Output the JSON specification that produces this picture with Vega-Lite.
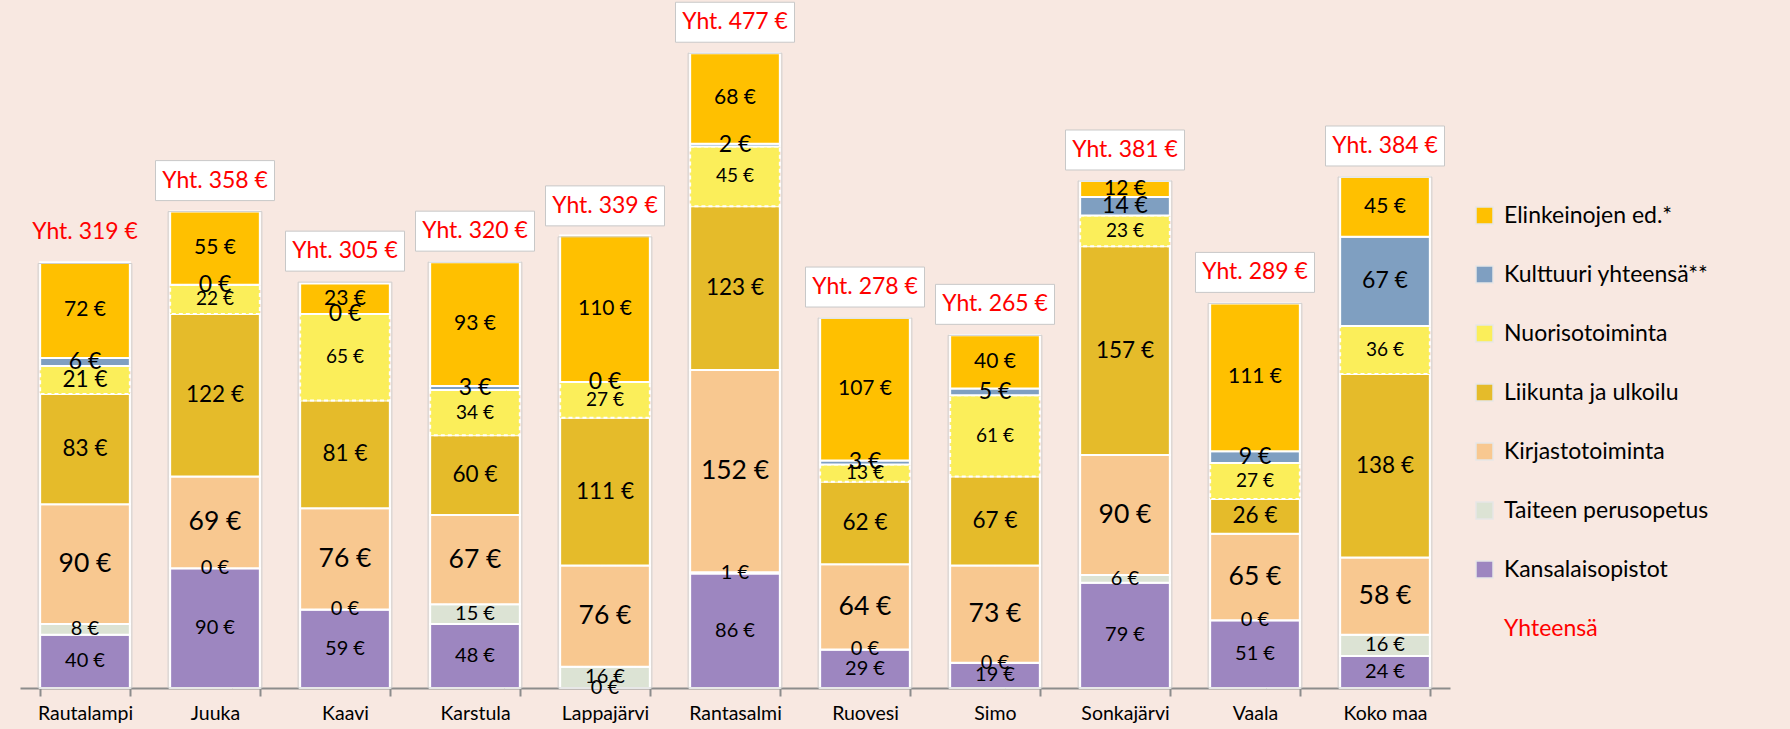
{
  "$schema": "https://vega.github.io/schema/vega-lite/v6.json",
  "background": "#F8E8E1",
  "autosize": {"type": "none"},
  "width": 1430,
  "height": 688,
  "padding": {"left": 20, "top": 0, "right": 340, "bottom": 41},
  "config": {"view": {"stroke": null}, "font": "Lato"},
  "datasets": {
    "osat": [
      {"Kunta": "Rautalampi", "Sarja": "Kansalaisopistot", "Arvo": 40},
      {"Kunta": "Rautalampi", "Sarja": "Taiteen perusopetus", "Arvo": 8},
      {"Kunta": "Rautalampi", "Sarja": "Kirjastotoiminta", "Arvo": 90},
      {"Kunta": "Rautalampi", "Sarja": "Liikunta ja ulkoilu", "Arvo": 83},
      {"Kunta": "Rautalampi", "Sarja": "Nuorisotoiminta", "Arvo": 21},
      {"Kunta": "Rautalampi", "Sarja": "Kulttuuri yhteensä**", "Arvo": 6},
      {"Kunta": "Rautalampi", "Sarja": "Elinkeinojen ed.*", "Arvo": 72},
      {"Kunta": "Juuka", "Sarja": "Kansalaisopistot", "Arvo": 90},
      {"Kunta": "Juuka", "Sarja": "Taiteen perusopetus", "Arvo": 0},
      {"Kunta": "Juuka", "Sarja": "Kirjastotoiminta", "Arvo": 69},
      {"Kunta": "Juuka", "Sarja": "Liikunta ja ulkoilu", "Arvo": 122},
      {"Kunta": "Juuka", "Sarja": "Nuorisotoiminta", "Arvo": 22},
      {"Kunta": "Juuka", "Sarja": "Kulttuuri yhteensä**", "Arvo": 0},
      {"Kunta": "Juuka", "Sarja": "Elinkeinojen ed.*", "Arvo": 55},
      {"Kunta": "Kaavi", "Sarja": "Kansalaisopistot", "Arvo": 59},
      {"Kunta": "Kaavi", "Sarja": "Taiteen perusopetus", "Arvo": 0},
      {"Kunta": "Kaavi", "Sarja": "Kirjastotoiminta", "Arvo": 76},
      {"Kunta": "Kaavi", "Sarja": "Liikunta ja ulkoilu", "Arvo": 81},
      {"Kunta": "Kaavi", "Sarja": "Nuorisotoiminta", "Arvo": 65},
      {"Kunta": "Kaavi", "Sarja": "Kulttuuri yhteensä**", "Arvo": 0},
      {"Kunta": "Kaavi", "Sarja": "Elinkeinojen ed.*", "Arvo": 23},
      {"Kunta": "Karstula", "Sarja": "Kansalaisopistot", "Arvo": 48},
      {"Kunta": "Karstula", "Sarja": "Taiteen perusopetus", "Arvo": 15},
      {"Kunta": "Karstula", "Sarja": "Kirjastotoiminta", "Arvo": 67},
      {"Kunta": "Karstula", "Sarja": "Liikunta ja ulkoilu", "Arvo": 60},
      {"Kunta": "Karstula", "Sarja": "Nuorisotoiminta", "Arvo": 34},
      {"Kunta": "Karstula", "Sarja": "Kulttuuri yhteensä**", "Arvo": 3},
      {"Kunta": "Karstula", "Sarja": "Elinkeinojen ed.*", "Arvo": 93},
      {"Kunta": "Lappajärvi", "Sarja": "Kansalaisopistot", "Arvo": 0},
      {"Kunta": "Lappajärvi", "Sarja": "Taiteen perusopetus", "Arvo": 16},
      {"Kunta": "Lappajärvi", "Sarja": "Kirjastotoiminta", "Arvo": 76},
      {"Kunta": "Lappajärvi", "Sarja": "Liikunta ja ulkoilu", "Arvo": 111},
      {"Kunta": "Lappajärvi", "Sarja": "Nuorisotoiminta", "Arvo": 27},
      {"Kunta": "Lappajärvi", "Sarja": "Kulttuuri yhteensä**", "Arvo": 0},
      {"Kunta": "Lappajärvi", "Sarja": "Elinkeinojen ed.*", "Arvo": 110},
      {"Kunta": "Rantasalmi", "Sarja": "Kansalaisopistot", "Arvo": 86},
      {"Kunta": "Rantasalmi", "Sarja": "Taiteen perusopetus", "Arvo": 1},
      {"Kunta": "Rantasalmi", "Sarja": "Kirjastotoiminta", "Arvo": 152},
      {"Kunta": "Rantasalmi", "Sarja": "Liikunta ja ulkoilu", "Arvo": 123},
      {"Kunta": "Rantasalmi", "Sarja": "Nuorisotoiminta", "Arvo": 45},
      {"Kunta": "Rantasalmi", "Sarja": "Kulttuuri yhteensä**", "Arvo": 2},
      {"Kunta": "Rantasalmi", "Sarja": "Elinkeinojen ed.*", "Arvo": 68},
      {"Kunta": "Ruovesi", "Sarja": "Kansalaisopistot", "Arvo": 29},
      {"Kunta": "Ruovesi", "Sarja": "Taiteen perusopetus", "Arvo": 0},
      {"Kunta": "Ruovesi", "Sarja": "Kirjastotoiminta", "Arvo": 64},
      {"Kunta": "Ruovesi", "Sarja": "Liikunta ja ulkoilu", "Arvo": 62},
      {"Kunta": "Ruovesi", "Sarja": "Nuorisotoiminta", "Arvo": 13},
      {"Kunta": "Ruovesi", "Sarja": "Kulttuuri yhteensä**", "Arvo": 3},
      {"Kunta": "Ruovesi", "Sarja": "Elinkeinojen ed.*", "Arvo": 107},
      {"Kunta": "Simo", "Sarja": "Kansalaisopistot", "Arvo": 19},
      {"Kunta": "Simo", "Sarja": "Taiteen perusopetus", "Arvo": 0},
      {"Kunta": "Simo", "Sarja": "Kirjastotoiminta", "Arvo": 73},
      {"Kunta": "Simo", "Sarja": "Liikunta ja ulkoilu", "Arvo": 67},
      {"Kunta": "Simo", "Sarja": "Nuorisotoiminta", "Arvo": 61},
      {"Kunta": "Simo", "Sarja": "Kulttuuri yhteensä**", "Arvo": 5},
      {"Kunta": "Simo", "Sarja": "Elinkeinojen ed.*", "Arvo": 40},
      {"Kunta": "Sonkajärvi", "Sarja": "Kansalaisopistot", "Arvo": 79},
      {"Kunta": "Sonkajärvi", "Sarja": "Taiteen perusopetus", "Arvo": 6},
      {"Kunta": "Sonkajärvi", "Sarja": "Kirjastotoiminta", "Arvo": 90},
      {"Kunta": "Sonkajärvi", "Sarja": "Liikunta ja ulkoilu", "Arvo": 157},
      {"Kunta": "Sonkajärvi", "Sarja": "Nuorisotoiminta", "Arvo": 23},
      {"Kunta": "Sonkajärvi", "Sarja": "Kulttuuri yhteensä**", "Arvo": 14},
      {"Kunta": "Sonkajärvi", "Sarja": "Elinkeinojen ed.*", "Arvo": 12},
      {"Kunta": "Vaala", "Sarja": "Kansalaisopistot", "Arvo": 51},
      {"Kunta": "Vaala", "Sarja": "Taiteen perusopetus", "Arvo": 0},
      {"Kunta": "Vaala", "Sarja": "Kirjastotoiminta", "Arvo": 65},
      {"Kunta": "Vaala", "Sarja": "Liikunta ja ulkoilu", "Arvo": 26},
      {"Kunta": "Vaala", "Sarja": "Nuorisotoiminta", "Arvo": 27},
      {"Kunta": "Vaala", "Sarja": "Kulttuuri yhteensä**", "Arvo": 9},
      {"Kunta": "Vaala", "Sarja": "Elinkeinojen ed.*", "Arvo": 111},
      {"Kunta": "Koko maa", "Sarja": "Kansalaisopistot", "Arvo": 24},
      {"Kunta": "Koko maa", "Sarja": "Taiteen perusopetus", "Arvo": 16},
      {"Kunta": "Koko maa", "Sarja": "Kirjastotoiminta", "Arvo": 58},
      {"Kunta": "Koko maa", "Sarja": "Liikunta ja ulkoilu", "Arvo": 138},
      {"Kunta": "Koko maa", "Sarja": "Nuorisotoiminta", "Arvo": 36},
      {"Kunta": "Koko maa", "Sarja": "Kulttuuri yhteensä**", "Arvo": 67},
      {"Kunta": "Koko maa", "Sarja": "Elinkeinojen ed.*", "Arvo": 45}
    ],
    "yht": [
      {"Kunta": "Rautalampi", "Yhteensa": 319},
      {"Kunta": "Juuka", "Yhteensa": 358},
      {"Kunta": "Kaavi", "Yhteensa": 305},
      {"Kunta": "Karstula", "Yhteensa": 320},
      {"Kunta": "Lappajärvi", "Yhteensa": 339},
      {"Kunta": "Rantasalmi", "Yhteensa": 477},
      {"Kunta": "Ruovesi", "Yhteensa": 278},
      {"Kunta": "Simo", "Yhteensa": 265},
      {"Kunta": "Sonkajärvi", "Yhteensa": 381},
      {"Kunta": "Vaala", "Yhteensa": 289},
      {"Kunta": "Koko maa", "Yhteensa": 384}
    ]
  },
  "layer": [
    {
      "data": {"name": "osat"},
      "transform": [
        {"calculate": "indexof(['Kansalaisopistot','Taiteen perusopetus','Kirjastotoiminta','Liikunta ja ulkoilu','Nuorisotoiminta','Kulttuuri yhteensä**','Elinkeinojen ed.*'], datum.Sarja)", "as": "jarj"},
        {"stack": "Arvo", "groupby": ["Kunta"], "sort": [{"field": "jarj", "order": "ascending"}], "as": ["y0", "y1"]}
      ],
      "mark": {"type": "bar", "stroke": "white", "strokeWidth": 2},
      "encoding": {
        "x": {"field": "Kunta", "type": "nominal", "sort": null,
          "scale": {"paddingInner": 0.31, "paddingOuter": 0.155},
          "axis": {"title": null, "labelAngle": 0, "labelFont": "Lato", "labelFontSize": 19.5, "labelColor": "#000000",
            "domainColor": "#8c8c8c", "domainWidth": 2, "tickColor": "#8c8c8c", "tickWidth": 2, "tickSize": 8,
            "tickBand": "extent", "labelPadding": 8}},
        "y": {"field": "y1", "type": "quantitative", "scale": {"domain": [0, 517], "nice": false, "zero": true}, "axis": null},
        "y2": {"field": "y0"},
        "color": {"field": "Sarja", "type": "nominal",
          "scale": {
            "domain": ["Elinkeinojen ed.*", "Kulttuuri yhteensä**", "Nuorisotoiminta", "Liikunta ja ulkoilu", "Kirjastotoiminta", "Taiteen perusopetus", "Kansalaisopistot", "Yhteensä"],
            "range": ["#FFC000", "#7F9FC1", "#FBEE5A", "#E5BB2A", "#F8C890", "#DCE3D4", "#9D86C0", "transparent"]
          },
          "legend": {
            "title": null, "orient": "none", "legendX": 1453, "legendY": 204, "padding": 0,
            "symbolType": "square", "symbolSize": 289, "symbolStrokeWidth": 1.5, "symbolStrokeColor": "#e6e6e6", "symbolOpacity": 1,
            "labelFont": "Lato", "labelFontSize": 23, "labelColor": "#000000", "labelOffset": 8, "labelLimit": 400,
            "rowPadding": 35,
            "encode": {
              "symbols": {"update": {"stroke": {"signal": "datum.label === 'Yhteensä' ? 'transparent' : '#e6e6e6'"}}},
              "labels": {"update": {"fill": {"signal": "datum.label === 'Yhteensä' ? '#FF0000' : '#000000'"}}}
            }
          }
        },
        "strokeDash": {"condition": {"test": "datum.Sarja === 'Nuorisotoiminta'", "value": [4, 3]}, "value": [1, 0]}
      }
    },
    {
      "data": {"name": "yht"},
      "mark": {"type": "bar", "fill": "transparent", "stroke": "#cfcfcf", "strokeWidth": 1, "width": {"band": 1.045}},
      "encoding": {
        "x": {"field": "Kunta", "type": "nominal", "sort": null},
        "y": {"field": "Yhteensa", "type": "quantitative"}
      }
    },
    {
      "data": {"name": "osat"},
      "transform": [
        {"calculate": "indexof(['Kansalaisopistot','Taiteen perusopetus','Kirjastotoiminta','Liikunta ja ulkoilu','Nuorisotoiminta','Kulttuuri yhteensä**','Elinkeinojen ed.*'], datum.Sarja)", "as": "jarj"},
        {"stack": "Arvo", "groupby": ["Kunta"], "sort": [{"field": "jarj", "order": "ascending"}], "as": ["y0", "y1"]},
        {"calculate": "(datum.y0 + datum.y1) / 2", "as": "keski"},
        {"calculate": "datum.Arvo + ' €'", "as": "teksti"}
      ],
      "mark": {"type": "text", "font": "Lato", "color": "#000000", "baseline": "middle", "align": "center"},
      "encoding": {
        "x": {"field": "Kunta", "type": "nominal", "sort": null},
        "y": {"field": "keski", "type": "quantitative"},
        "text": {"field": "teksti"},
        "size": {
          "condition": [
            {"test": "datum.Sarja === 'Nuorisotoiminta' && datum.Kunta === 'Rautalampi'", "value": 22.5},
            {"test": "datum.Sarja === 'Kirjastotoiminta'", "value": 26.5},
            {"test": "datum.Sarja === 'Liikunta ja ulkoilu'", "value": 22.5},
            {"test": "datum.Sarja === 'Kulttuuri yhteensä**'", "value": 23},
            {"test": "datum.Sarja === 'Nuorisotoiminta'", "value": 19},
            {"test": "datum.Sarja === 'Elinkeinojen ed.*'", "value": 21}
          ],
          "value": 20
        }
      }
    },
    {
      "data": {"name": "yht"},
      "transform": [{"filter": "datum.Kunta !== 'Rautalampi'"}],
      "mark": {"type": "point", "shape": "M-1,-0.336L1,-0.336L1,0.336L-1,0.336Z", "size": 14161, "filled": true, "fill": "white", "opacity": 1, "stroke": "#c8c8c8", "strokeWidth": 1, "yOffset": -31},
      "encoding": {
        "x": {"field": "Kunta", "type": "nominal", "sort": null},
        "y": {"field": "Yhteensa", "type": "quantitative"}
      }
    },
    {
      "data": {"name": "yht"},
      "transform": [{"calculate": "'Yht. ' + datum.Yhteensa + ' €'", "as": "teksti"}],
      "mark": {"type": "text", "font": "Lato", "fontSize": 23, "color": "#FF0000", "baseline": "middle", "align": "center", "dy": -31},
      "encoding": {
        "x": {"field": "Kunta", "type": "nominal", "sort": null},
        "y": {"field": "Yhteensa", "type": "quantitative"},
        "text": {"field": "teksti"}
      }
    }
  ]
}
